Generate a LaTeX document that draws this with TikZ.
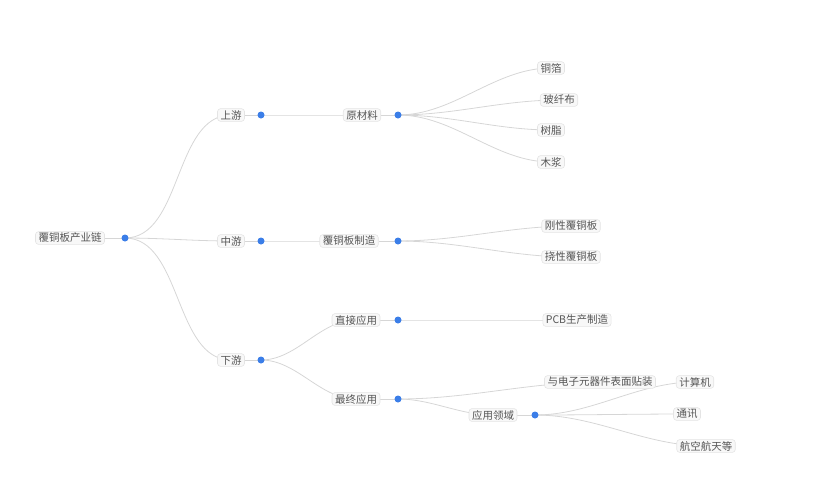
\documentclass[tikz,border=0pt]{standalone}
\usepackage{fontspec}
\setmainfont{Noto Sans CJK SC}
\usetikzlibrary{backgrounds}
\definecolor{txt}{HTML}{555555}
\definecolor{dotc}{HTML}{3B7EE8}
\definecolor{lfill}{HTML}{F8F8F8}
\definecolor{lbord}{HTML}{E4E4E4}
\definecolor{edgec}{HTML}{D6D6D6}
\begin{document}
\begin{tikzpicture}[x=1pt,y=-1pt,
  lab/.style={draw=lbord,fill=lfill,rounded corners=3pt,text=txt,font=\fontsize{10.5}{12}\selectfont,inner xsep=3pt,inner ysep=1.5pt,line width=0.6pt},
  dotn/.style={circle,fill=dotc,inner sep=0pt,minimum size=7pt},
  edge/.style={draw=edgec,line width=0.8pt,out=0,in=180,looseness=0.9}]
\useasboundingbox (0,0) rectangle (834,483);
\node[lab] (root) at (70,238) {覆铜板产业链}; \node[dotn] (droot) at (125,238) {};
\node[lab] (up) at (231,115) {上游}; \node[dotn] (dup) at (261,115) {};
\node[lab] (mid) at (231,241) {中游}; \node[dotn] (dmid) at (261,241) {};
\node[lab] (down) at (231,360) {下游}; \node[dotn] (ddown) at (261,360) {};
\node[lab] (raw) at (362,115) {原材料}; \node[dotn] (draw) at (398,115) {};
\node[lab] (mfg) at (349,241) {覆铜板制造}; \node[dotn] (dmfg) at (398,241) {};
\node[lab] (direct) at (356,320) {直接应用}; \node[dotn] (ddirect) at (398,320) {};
\node[lab] (final) at (356,399) {最终应用}; \node[dotn] (dfinal) at (398,399) {};
\node[lab] (cu) at (551,68) {铜箔};
\node[lab] (glass) at (559,100) {玻纤布};
\node[lab] (resin) at (551,130) {树脂};
\node[lab] (pulp) at (551,162) {木浆};
\node[lab] (rigid) at (571,226) {刚性覆铜板};
\node[lab] (flex) at (571,257) {挠性覆铜板};
\node[lab] (pcb) at (577,320) {PCB生产制造};
\node[lab] (smt) at (600,382) {与电子元器件表面贴装};
\node[lab] (field) at (493,415) {应用领域}; \node[dotn] (dfield) at (535,415) {};
\node[lab] (comp) at (695,382) {计算机};
\node[lab] (comm) at (687,414) {通讯};
\node[lab] (aero) at (706,446) {航空航天等};
\begin{scope}[on background layer]
\foreach \a/\b in {droot/up,droot/mid,droot/down,dup/raw,dmid/mfg,ddown/direct,ddown/final,
  draw/cu,draw/glass,draw/resin,draw/pulp,dmfg/rigid,dmfg/flex,ddirect/pcb,dfinal/smt,dfinal/field,
  dfield/comp,dfield/comm,dfield/aero}
  \draw[edge] (\a.center) to (\b.center);
\draw[edge] (root.east) -- (droot.center);
\foreach \a/\b in {up/dup,mid/dmid,down/ddown,raw/draw,mfg/dmfg,direct/ddirect,final/dfinal,field/dfield}
  \draw[edge,out=0,in=180] (\a.east) -- (\b.center);
\end{scope}
\end{tikzpicture}
\end{document}
